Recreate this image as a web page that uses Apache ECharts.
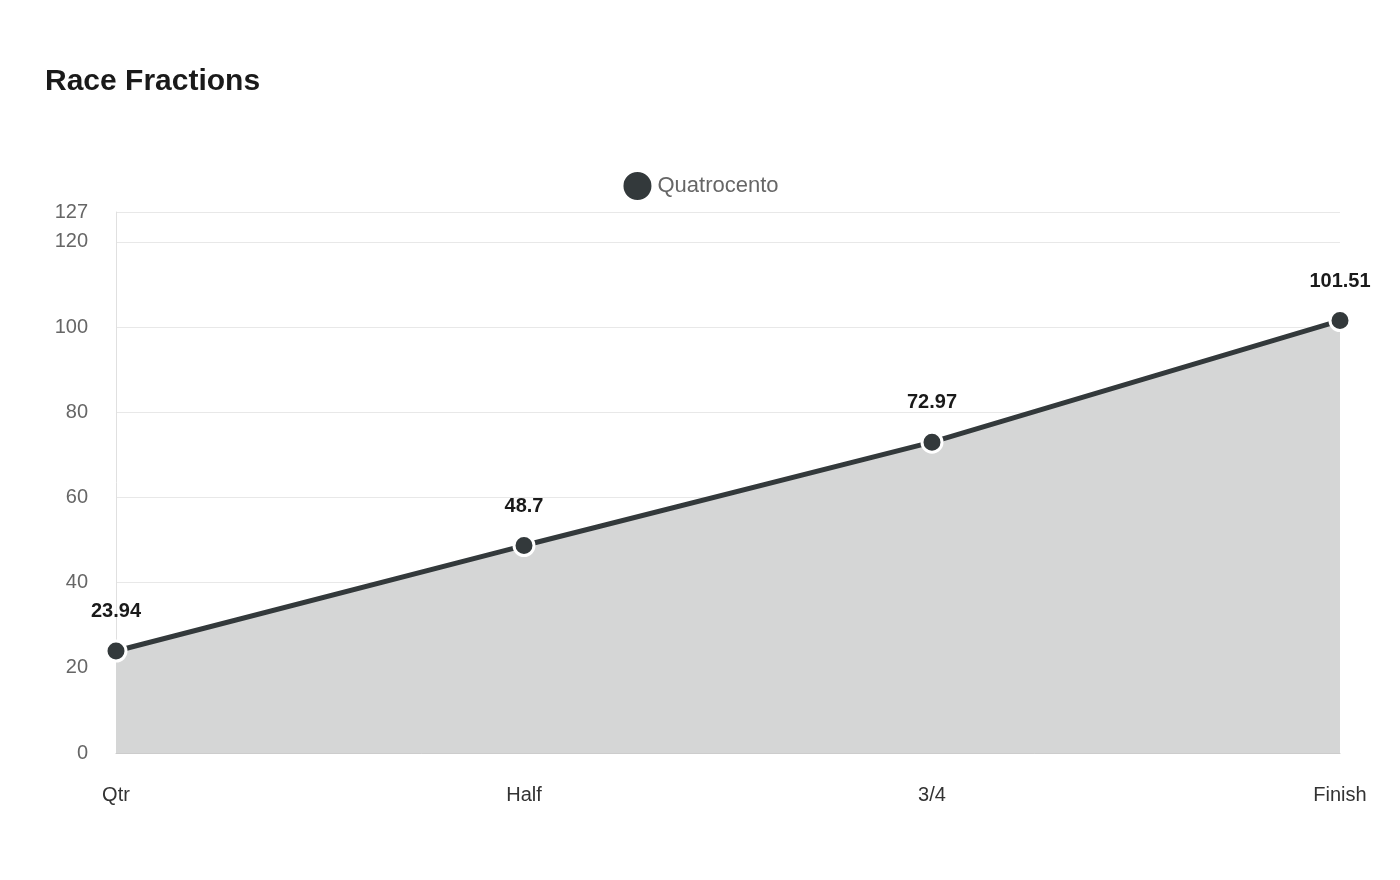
<!DOCTYPE html>
<html>
<head>
<meta charset="utf-8">
<script src="https://cdn.jsdelivr.net/npm/echarts@6/dist/echarts.min.js"></script>
<style>
  html, body { margin: 0; padding: 0; background: #fff; }
  #chart { width: 1400px; height: 880px; }
</style>
</head>
<body>
<div id="chart"></div>
<script>
const categories = ['Qtr', 'Half', '3/4', 'Finish']
const seriesName = 'Quatrocento'
const values = [23.94, 48.7, 72.97, 101.51]

const chart = echarts.init(document.getElementById('chart'))
chart.setOption({
  textStyle: { fontFamily: 'Liberation Sans, Arial, sans-serif' },
  title: {
    text: 'Race Fractions',
    left: 40,
    top: 62,
    textStyle: { fontSize: 30, fontWeight: 'bold', color: '#1a1a1a' },
  },
  legend: {
    top: 165,
    left: 'center',
    icon: 'circle',
    itemWidth: 30,
    itemHeight: 30,
    textStyle: { fontSize: 22, color: '#666' },
    data: [seriesName],
  },
  grid: { left: 116, right: 60, top: 212, bottom: 127 },
  xAxis: {
    type: 'category',
    data: categories,
    boundaryGap: false,
    axisLine: { lineStyle: { color: '#ccc' } },
    axisTick: { show: false },
    axisLabel: { margin: 32, fontSize: 20, color: '#333' },
  },
  yAxis: {
    type: 'value',
    min: 0,
    max: 127,
    interval: 20,
    axisLine: { show: true, lineStyle: { color: '#e0e0e0' } },
    axisTick: { show: false },
    axisLabel: { fontSize: 20, color: '#666', margin: 28, showMaxLabel: true },
    splitLine: { lineStyle: { color: '#e8e8e8' } },
  },
  series: [{
    name: seriesName,
    type: 'line',
    data: values,
    color: '#33393b',
    symbol: 'circle',
    symbolSize: 20,
    lineStyle: { width: 5, color: '#33393b' },
    itemStyle: { color: '#33393b', borderColor: '#fff', borderWidth: 3 },
    areaStyle: { color: '#d5d6d6', opacity: 1 },
    label: {
      show: true,
      position: 'top',
      distance: 18,
      fontSize: 20,
      fontWeight: 'bold',
      color: '#1a1a1a',
    },
  }],
})
</script>
</body>
</html>
